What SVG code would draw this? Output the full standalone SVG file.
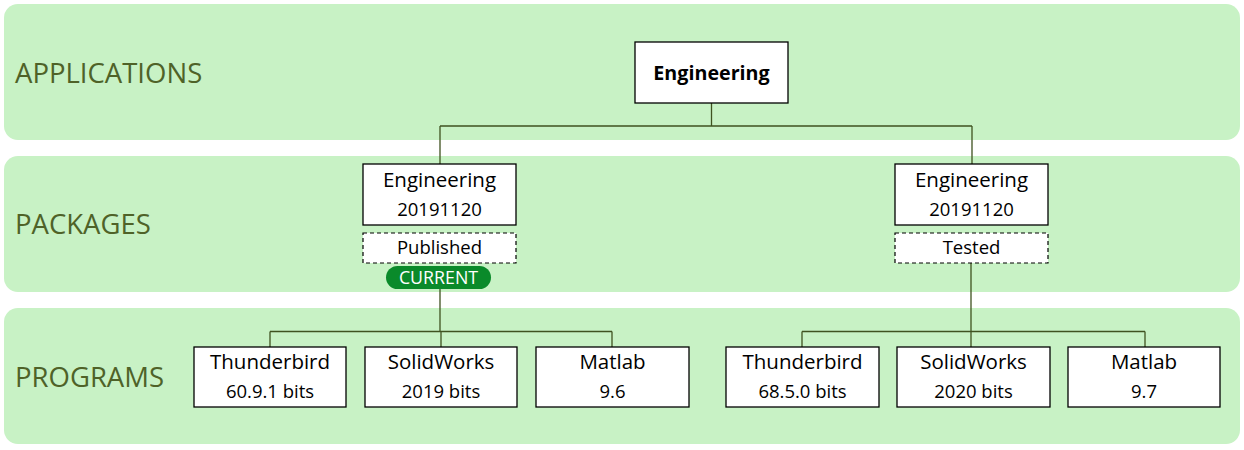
<svg xmlns="http://www.w3.org/2000/svg" width="1244" height="450" viewBox="0 0 1244 450">
<style>
.band{fill:#c8f2c5;}
.lbl{font-family:"Open Sans","Liberation Sans",sans-serif;font-size:27.5px;fill:#4f6228;}
.box{fill:#ffffff;stroke:#000000;stroke-width:1.3;}
.dash{fill:#ffffff;stroke:#000000;stroke-width:1.2;stroke-dasharray:4 3;}
.t{font-family:"Open Sans","Liberation Sans",sans-serif;font-size:20.5px;fill:#000;text-anchor:middle;}
.s{font-family:"Open Sans","Liberation Sans",sans-serif;font-size:18.5px;fill:#000;text-anchor:middle;}
.b{font-weight:bold;font-size:19.7px;}
.w{fill:#ffffff;font-size:17.8px;}
.conn{fill:none;stroke:#3f5220;stroke-width:1.3;}
</style>
<g id="bands">
<rect class="band" x="4" y="4" width="1236" height="136" rx="14"/>
<rect class="band" x="4" y="156" width="1236" height="136" rx="14"/>
<rect class="band" x="4" y="308" width="1236" height="136" rx="14"/>
<text class="lbl" x="15" y="83">APPLICATIONS</text>
<text class="lbl" x="15" y="234">PACKAGES</text>
<text class="lbl" x="15" y="387">PROGRAMS</text>
</g>
<g id="connectors">
<path class="conn" d="M711.5 103 V126 M440 126 H972 M440 126 V164 M972 126 V164"/>
<path class="conn" d="M440 289 V331.5 M270 331.5 H612 M270 331.5 V347 M612 331.5 V347 M441 331.5 V347"/>
<path class="conn" d="M971 263 V331.5 M802 331.5 H1145 M802 331.5 V347 M1145 331.5 V347 M971 331.5 V347"/>
</g>
<g id="app">
<rect class="box" x="635" y="42" width="153" height="61"/>
<text class="t b" x="711.5" y="80">Engineering</text>
</g>
<g id="pkg1">
<rect class="box" x="363" y="164" width="153" height="61"/>
<text class="t" x="439.5" y="187">Engineering</text>
<text class="s" x="439.5" y="216">20191120</text>
<rect class="dash" x="363" y="233" width="153" height="30"/>
<text class="s" x="439.5" y="254">Published</text>
<rect x="386" y="266" width="105" height="23" rx="11.5" fill="#0a8a2a"/>
<text class="s w" x="438.5" y="284">CURRENT</text>
</g>
<g id="pkg2">
<rect class="box" x="895" y="164" width="153" height="61"/>
<text class="t" x="971.5" y="187">Engineering</text>
<text class="s" x="971.5" y="216">20191120</text>
<rect class="dash" x="895" y="233" width="153" height="30"/>
<text class="s" x="971.5" y="254">Tested</text>
</g>
<g id="p1"><rect class="box" x="194" y="347" width="152" height="60"/><text class="t" x="270" y="369">Thunderbird</text><text class="s" x="270" y="398">60.9.1 bits</text></g>
<g id="p2"><rect class="box" x="365" y="347" width="152" height="60"/><text class="t" x="441" y="369">SolidWorks</text><text class="s" x="441" y="398">2019 bits</text></g>
<g id="p3"><rect class="box" x="536" y="347" width="153" height="60"/><text class="t" x="612.5" y="369">Matlab</text><text class="s" x="612.5" y="398">9.6</text></g>
<g id="p4"><rect class="box" x="726" y="347" width="153" height="60"/><text class="t" x="802.5" y="369">Thunderbird</text><text class="s" x="802.5" y="398">68.5.0 bits</text></g>
<g id="p5"><rect class="box" x="897" y="347" width="153" height="60"/><text class="t" x="973.5" y="369">SolidWorks</text><text class="s" x="973.5" y="398">2020 bits</text></g>
<g id="p6"><rect class="box" x="1068" y="347" width="152" height="60"/><text class="t" x="1144" y="369">Matlab</text><text class="s" x="1144" y="398">9.7</text></g>
</svg>
